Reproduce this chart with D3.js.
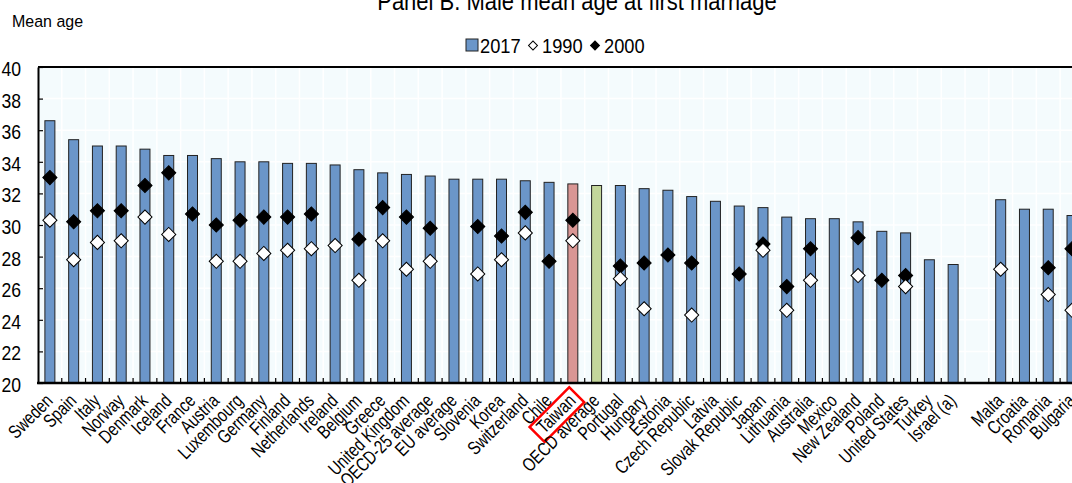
<!DOCTYPE html>
<html>
<head>
<meta charset="utf-8">
<script src="https://cdn.jsdelivr.net/npm/d3@7"></script>
<style>
  html, body { margin: 0; padding: 0; background: #ffffff; }
  svg { display: block; }
  text { font-family: "Liberation Sans", Arial, sans-serif; fill: #000; }
</style>
</head>
<body>
<svg id="chart" width="1072" height="483"></svg>
<script>
const categories = ["Sweden","Spain","Italy","Norway","Denmark","Iceland","France","Austria","Luxembourg","Germany","Finland","Netherlands","Ireland","Belgium","Greece","United Kingdom","OECD-25 average","EU average","Slovenia","Korea","Switzerland","Chile","Taiwan","OECD average","Portugal","Hungary","Estonia","Czech Republic","Latvia","Slovak Republic","Japan","Lithuania","Australia","Mexico","New Zealand","Poland","United States","Turkey","Israel (a)","","Malta","Croatia","Romania","Bulgaria"];
const values2017 = [36.6,35.4,35.0,35.0,34.8,34.4,34.4,34.2,34.0,34.0,33.9,33.9,33.8,33.5,33.3,33.2,33.1,32.9,32.9,32.9,32.8,32.7,32.6,32.5,32.5,32.3,32.2,31.8,31.5,31.2,31.1,30.5,30.4,30.4,30.2,29.6,29.5,27.8,27.5,null,31.6,31.0,31.0,30.6];
const values1990 = [30.3,27.8,28.9,29.0,30.5,29.4,null,27.7,27.7,28.2,28.4,28.5,28.7,26.5,29.0,27.2,27.7,null,26.9,27.8,29.5,null,29.0,null,26.6,24.7,null,24.3,null,null,28.4,24.6,26.5,null,26.8,null,26.1,null,null,null,27.2,null,25.6,24.6];
const values2000 = [33.0,30.2,30.9,30.9,32.5,33.3,30.7,30.0,30.3,30.5,30.5,30.7,null,29.1,31.1,30.5,29.8,null,29.9,29.3,30.8,27.7,30.3,null,27.4,27.6,28.1,27.6,null,26.9,28.8,26.1,28.5,null,29.2,26.5,26.8,null,null,null,null,null,27.3,28.5];
const yTickValues = [20,22,24,26,28,30,32,34,36,38,40];
const titleText = "Panel B. Male mean age at first marriage";
const yAxisTitle = "Mean age";
const legendLabels = ["2017","1990","2000"];
const highlight = "Taiwan";
const average = "OECD average";

const svg = d3.select("#chart");
const pLeft = 38, pTop = 67, pBottom = 383;
const step = 23.77;
const pRight = pLeft + step * categories.length;

const x = d3.scaleBand().domain(categories).range([pLeft, pRight]).paddingInner(0.58).paddingOuter(0.29);
const y = d3.scaleLinear().domain([20, 40]).range([pBottom, pTop]);
const cx = d => x(d) + x.bandwidth() / 2;
const boundary = i => pLeft + i * x.step();

// plot background
svg.append("rect").attr("x", pLeft).attr("y", pTop).attr("width", pRight - pLeft).attr("height", pBottom - pTop).attr("fill", "#f4fbfd");

// gridlines
const grid = svg.append("g");
grid.selectAll("line.h").data(yTickValues).join("line")
  .attr("x1", pLeft).attr("x2", pRight).attr("y1", d => y(d)).attr("y2", d => y(d))
  .attr("stroke", "#ffffff").attr("stroke-width", 1.5);
grid.selectAll("line.v").data(d3.range(1, categories.length + 1)).join("line")
  .attr("x1", i => boundary(i)).attr("x2", i => boundary(i)).attr("y1", pTop).attr("y2", pBottom)
  .attr("stroke", "#ffffff").attr("stroke-width", 1.5);

// bars
const data = categories.map((c, i) => ({c, v17: values2017[i], v90: values1990[i], v00: values2000[i]}));
svg.append("g").selectAll("rect").data(data.filter(d => d.v17 != null)).join("rect")
  .attr("x", d => x(d.c)).attr("width", x.bandwidth())
  .attr("y", d => y(d.v17)).attr("height", d => y(20) - y(d.v17))
  .attr("fill", d => d.c === highlight ? "#d99694" : d.c === average ? "#c3d69b" : "#6b96c9")
  .attr("stroke", "#222").attr("stroke-width", 1);

// markers
const diamond = d3.symbol().type(d3.symbolSquare).size(100);
svg.append("g").selectAll("path").data(data.filter(d => d.v00 != null)).join("path")
  .attr("d", diamond).attr("transform", d => `translate(${cx(d.c)},${y(d.v00)}) rotate(45)`)
  .attr("fill", "#000").attr("stroke", "#000").attr("stroke-width", 1);
svg.append("g").selectAll("path").data(data.filter(d => d.v90 != null)).join("path")
  .attr("d", diamond).attr("transform", d => `translate(${cx(d.c)},${y(d.v90)}) rotate(45)`)
  .attr("fill", "#fff").attr("stroke", "#000").attr("stroke-width", 1);

// y axis
const yAxis = d3.axisLeft(y).tickValues(yTickValues).tickSizeInner(-5).tickSizeOuter(0).tickPadding(17);
const gy = svg.append("g").attr("transform", `translate(${pLeft},0)`).call(yAxis);
gy.select(".domain").attr("stroke", "#000").attr("stroke-width", 2);
gy.selectAll(".tick line").attr("stroke", "#000").attr("stroke-width", 1.2);
gy.selectAll(".tick text").attr("font-size", 20).attr("font-family", null).attr("fill", "#000")
  .attr("x", 0).attr("dy", "0.42em").attr("transform", "translate(-17,0) scale(0.88,1)");

// top frame
svg.append("line").attr("x1", pLeft).attr("x2", pRight).attr("y1", pTop).attr("y2", pTop).attr("stroke", "#000").attr("stroke-width", 2);

// bottom axis: boundary ticks
svg.append("g").selectAll("line").data(d3.range(1, categories.length + 1)).join("line")
  .attr("x1", i => boundary(i)).attr("x2", i => boundary(i)).attr("y1", pBottom).attr("y2", pBottom - 5)
  .attr("stroke", "#000").attr("stroke-width", 1.2);
svg.append("line").attr("x1", pLeft - 1).attr("x2", pRight).attr("y1", pBottom).attr("y2", pBottom).attr("stroke", "#000").attr("stroke-width", 2.5);

// x labels
const kx = 0.78;
const labels = svg.append("g").selectAll("g").data(categories).join("g")
  .attr("transform", d => `translate(${cx(d) + 4},${pBottom + 19}) rotate(-45)`);
labels.append("text").attr("text-anchor", "end").attr("font-size", 19)
  .attr("transform", `scale(${kx},1)`).text(d => d);
labels.filter(d => d === highlight).each(function() {
  const g = d3.select(this);
  const bb = g.select("text").node().getBBox();
  g.insert("rect", "text").attr("x", bb.x * kx - 5).attr("y", bb.y + 1).attr("width", bb.width * kx + 10).attr("height", bb.height)
    .attr("fill", "none").attr("stroke", "#ff0000").attr("stroke-width", 2.5);
});

// title
svg.append("text").attr("transform", "translate(577,10) scale(0.88,1)").attr("text-anchor", "middle").attr("font-size", 25).text(titleText);
svg.append("text").attr("transform", "translate(12,27) scale(0.94,1)").attr("font-size", 17).text(yAxisTitle);

// legend
const lg = svg.append("g");
lg.append("rect").attr("x", 466).attr("y", 39).attr("width", 12).attr("height", 12).attr("fill", "#6b96c9").attr("stroke", "#222").attr("stroke-width", 1);
lg.append("text").attr("transform", "translate(480,53) scale(0.87,1)").attr("font-size", 21).text(legendLabels[0]);
const smallD = d3.symbol().type(d3.symbolSquare).size(40);
lg.append("path").attr("d", smallD).attr("transform", "translate(533,45.5) rotate(45)").attr("fill", "#fff").attr("stroke", "#000").attr("stroke-width", 1);
lg.append("text").attr("transform", "translate(542,53) scale(0.87,1)").attr("font-size", 21).text(legendLabels[1]);
lg.append("path").attr("d", smallD).attr("transform", "translate(595,45.5) rotate(45)").attr("fill", "#000").attr("stroke", "#000").attr("stroke-width", 1);
lg.append("text").attr("transform", "translate(604,53) scale(0.87,1)").attr("font-size", 21).text(legendLabels[2]);
</script>
</body>
</html>
